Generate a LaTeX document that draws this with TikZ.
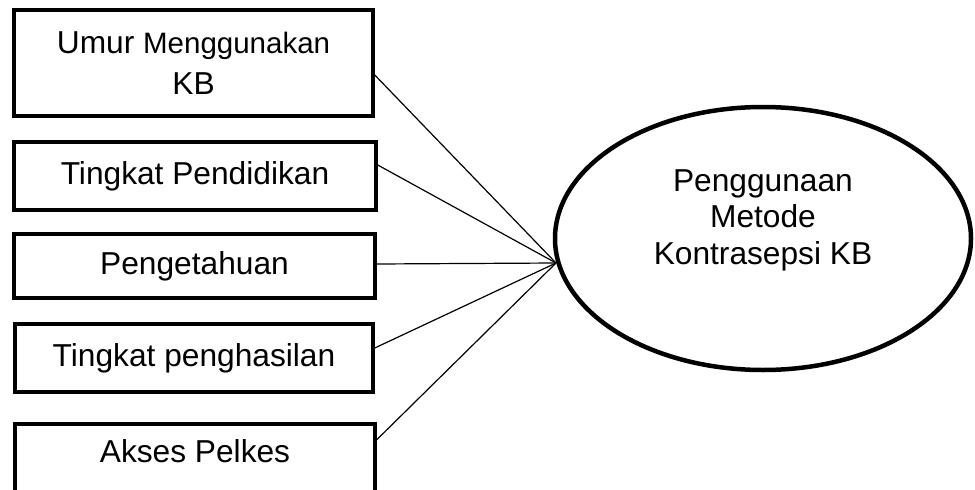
\documentclass[tikz,border=0pt]{standalone}
\usepackage{fontspec}
\setmainfont{Liberation Sans}
\usetikzlibrary{shapes.geometric}
\tikzset{
  vbox/.style  ={draw, line width=3.5pt, inner sep=0pt, align=center,
                 font=\fontsize{31.7}{36.5}\selectfont},
  depbox/.style={draw, ellipse, line width=4.5pt, inner sep=0pt,
                 minimum width=416pt, minimum height=263pt},
  lbl/.style   ={align=center, font=\fontsize{31.7}{36.5}\selectfont},
  ln/.style    ={draw=black, line width=1.2pt},
}
\begin{document}
\begin{tikzpicture}[x=1pt,y=-1pt]
\useasboundingbox (0,0) rectangle (975,490);
\clip (0,0) rectangle (975,490);
% variabel bebas
\node[vbox, minimum width=359pt, minimum height=106pt] (umur) at (193.5,63)
  {Umur {\fontsize{29.5}{36.5}\selectfont Menggunakan}\\[4.5pt]KB};
\node[vbox, minimum width=362pt, minimum height=68pt] (didik) at (195,176) {Tingkat Pendidikan};
\node[vbox, minimum width=361pt, minimum height=64pt] (tahu) at (194.5,266) {Pengetahuan};
\node[vbox, minimum width=358pt, minimum height=68pt] (hasil) at (194,358) {Tingkat penghasilan};
\node[vbox, minimum width=360pt, minimum height=84pt, text depth=30pt, anchor=north] (akses) at (195,422) {Akses Pelkes};
% variabel terikat
\node[depbox] (guna) at (763,238.5) {};
\node[lbl] (gunatxt) at (763,220) {Penggunaan\\Metode\\Kontrasepsi KB};
\coordinate (hub) at (556,263);
\draw[ln] ([yshift=-12pt]umur.east) -- (hub);
\draw[ln] ([yshift=11pt]didik.east) -- (hub);
\draw[ln] ([yshift=2pt]tahu.east) -- (hub);
\draw[ln] ([yshift=10pt]hasil.east) -- (hub);
\draw[ln] ([yshift=26pt]akses.east) -- (hub);
\end{tikzpicture}
\end{document}
